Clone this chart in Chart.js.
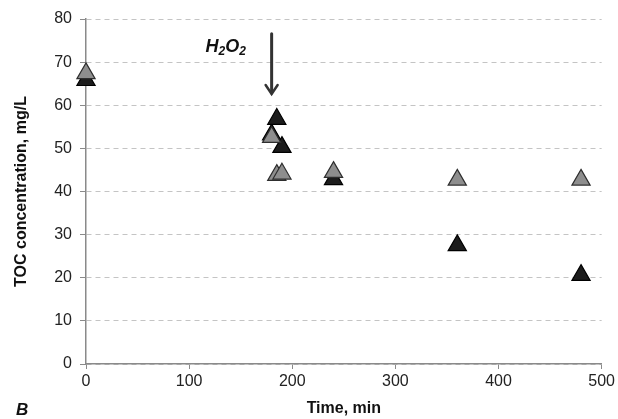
<!DOCTYPE html>
<html>
<head>
<meta charset="utf-8">
<script src="https://cdn.jsdelivr.net/npm/chart.js@4"></script>
<style>
  html, body { margin: 0; padding: 0; background: #fff; }
  #wrap { width: 618px; height: 419px; }
</style>
</head>
<body>
<div id="wrap"><canvas id="chart"></canvas></div>
<script>
// ── data ──
const grayTimes  = [0, 180, 185, 190, 240, 360, 480];
const grayToc    = [67.4, 52.6, 43.8, 44.1, 44.5, 42.7, 42.7];
const blackTimes = [0, 180, 185, 190, 240, 360, 480];
const blackToc   = [65.8, 53.2, 56.8, 50.3, 42.8, 27.5, 20.6];

const xTicks = [0, 100, 200, 300, 400, 500];
const yTicks = [0, 10, 20, 30, 40, 50, 60, 70, 80];

// H2O2 dosing marker (in data units)
const doseTime = 180;
const arrowFrom = 76.6;
const arrowTo = 62.6;
const doseLabelTime = 155;
const doseLabelToc = 73.4;

const FONT = "'Liberation Sans', Arial, sans-serif";

const toPoints = (xs, ys) => xs.map((x, i) => ({ x, y: ys[i] }));

// arrow + H2O2 label + panel letter
const annotations = {
    id: 'annotations',
    afterDatasetsDraw(chart) {
        const { ctx, scales: { x, y } } = chart;
        const ax = x.getPixelForValue(doseTime);
        const y1 = y.getPixelForValue(arrowFrom);
        const y2 = y.getPixelForValue(arrowTo);

        ctx.save();
        ctx.strokeStyle = '#333';
        ctx.lineWidth = 3;
        ctx.lineCap = 'round';
        ctx.beginPath();
        ctx.moveTo(ax, y1);
        ctx.lineTo(ax, y2 - 1);
        ctx.stroke();
        ctx.lineWidth = 2.5;
        ctx.beginPath();
        ctx.moveTo(ax - 6, y2 - 9);
        ctx.lineTo(ax, y2);
        ctx.lineTo(ax + 6, y2 - 9);
        ctx.stroke();

        // H2O2 with subscripts, right aligned at label anchor
        const lx = x.getPixelForValue(doseLabelTime);
        const ly = y.getPixelForValue(doseLabelToc);
        const big = 'italic bold 18px ' + FONT;
        const small = 'italic bold 12px ' + FONT;
        const parts = [['H', big, 0], ['2', small, 4], ['O', big, 0], ['2', small, 4]];
        let w = 0;
        parts.forEach(p => { ctx.font = p[1]; w += ctx.measureText(p[0]).width; });
        let cx = lx - w;
        ctx.fillStyle = '#111';
        ctx.textBaseline = 'middle';
        ctx.textAlign = 'left';
        parts.forEach(p => {
            ctx.font = p[1];
            ctx.fillText(p[0], cx, ly + p[2]);
            cx += ctx.measureText(p[0]).width;
        });

        // panel letter
        ctx.font = 'italic bold 17px ' + FONT;
        ctx.fillText('B', 16, 410);
        ctx.restore();
    }
};

new Chart(document.getElementById('chart'), {
    type: 'scatter',
    data: {
        datasets: [
            {
                label: 'gray',
                data: toPoints(grayTimes, grayToc),
                pointStyle: 'triangle',
                pointRadius: 10.5,
                pointHoverRadius: 10.5,
                backgroundColor: '#8e8e8e',
                borderColor: '#2e2e2e',
                borderWidth: 1.2,
                clip: false,
            },
            {
                label: 'black',
                data: toPoints(blackTimes, blackToc),
                pointStyle: 'triangle',
                pointRadius: 10.5,
                pointHoverRadius: 10.5,
                backgroundColor: '#1c1c1c',
                borderColor: '#000',
                borderWidth: 1.2,
                clip: false,
            }
        ]
    },
    options: {
        responsive: true,
        maintainAspectRatio: false,
        animation: false,
        events: [],
        layout: { padding: { top: 19, right: 16, left: 0, bottom: 0 } },
        plugins: {
            legend: { display: false },
            tooltip: { enabled: false }
        },
        scales: {
            x: {
                type: 'linear',
                min: 0,
                max: 500,
                afterBuildTicks: (s) => { s.ticks = xTicks.map(v => ({ value: v })); },
                afterFit: (s) => { s.height = 55; },
                grid: { drawOnChartArea: false, drawTicks: true, tickLength: 5, color: '#8a8a8a' },
                border: { color: '#8a8a8a', width: 1.5 },
                ticks: { font: { size: 16, family: FONT }, color: '#222', padding: 3, maxRotation: 0 },
                title: {
                    display: true,
                    text: 'Time, min',
                    font: { size: 16, weight: 'bold', family: FONT },
                    color: '#111',
                    padding: { top: 2, bottom: 1 }
                }
            },
            y: {
                type: 'linear',
                min: 0,
                max: 80,
                afterBuildTicks: (s) => { s.ticks = yTicks.map(v => ({ value: v })); },
                afterFit: (s) => { s.width = 86; },
                grid: {
                    color: '#c4c4c4',
                    tickLength: 6,
                    tickColor: '#8a8a8a',
                    tickBorderDash: [1, 0]
                },
                border: { color: '#8a8a8a', width: 1.5, dash: [5, 4] },
                ticks: { font: { size: 16, family: FONT }, color: '#222', padding: 8 },
                title: {
                    display: true,
                    text: 'TOC concentration, mg/L',
                    font: { size: 16, weight: 'bold', family: FONT },
                    color: '#111',
                    padding: { top: 12, bottom: 0 }
                }
            }
        }
    },
    plugins: [annotations]
});
</script>
</body>
</html>
